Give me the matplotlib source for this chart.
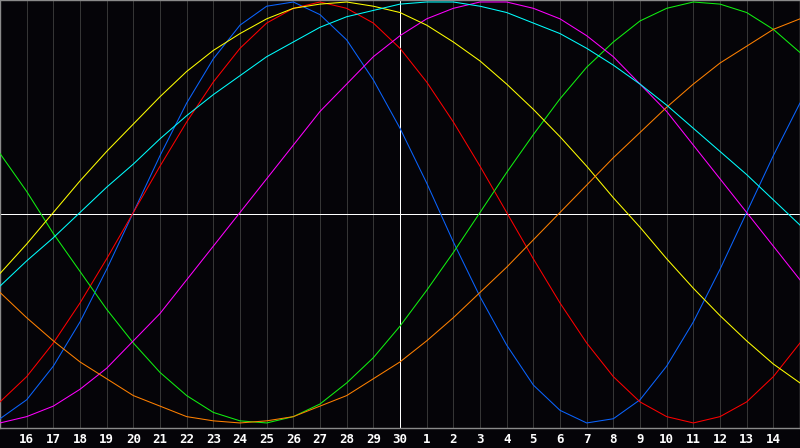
import matplotlib
matplotlib.use('Agg')
import matplotlib.pyplot as plt

# day labels along the bottom (index 0 = the 15th, at the left edge)
days = list(range(31))
day_labels = ['16', '17', '18', '19', '20', '21', '22', '23', '24', '25', '26', '27', '28', '29', '30',
              '1', '2', '3', '4', '5', '6', '7', '8', '9', '10', '11', '12', '13', '14']

# cycle values per day, in percent
physical = [-98, -89, -73, -52, -27, 0, 27, 52, 73, 89, 98, 100, 94, 82, 63, 40, 14, -14, -40, -63,
            -82, -94, -100, -98, -89, -73, -52, -27, 0, 27, 52]
emotional = [-90, -78, -62, -43, -22, 0, 22, 43, 62, 78, 90, 97, 100, 97, 90, 78, 62, 43, 22, 0,
             -22, -43, -62, -78, -90, -97, -100, -97, -90, -78, -62]
intellectual = [28, 10, -10, -28, -46, -62, -76, -87, -95, -99, -100, -97, -91, -81, -69, -54, -37, -19,
                0, 19, 37, 54, 69, 81, 91, 97, 100, 99, 95, 87, 76]
intuitive = [-100, -97, -92, -84, -74, -61, -48, -32, -16, 0, 16, 32, 48, 61, 74, 84, 92, 97, 100, 100,
             97, 92, 84, 74, 61, 48, 32, 16, 0, -16, -32]
aesthetic = [-29, -15, 0, 15, 29, 42, 55, 67, 77, 85, 92, 97, 99, 100, 98, 95, 89, 81, 72, 61, 49, 36,
             22, 7, -7, -22, -36, -49, -61, -72, -81]
awareness = [-38, -50, -61, -71, -79, -87, -92, -97, -99, -100, -99, -97, -92, -87, -79, -71, -61, -50,
             -38, -26, -13, 0, 13, 26, 38, 50, 61, 71, 79, 87, 92]
spiritual = [-35, -23, -12, 0, 12, 23, 35, 46, 56, 65, 74, 81, 88, 93, 96, 99, 100, 100, 98, 95, 90,
             85, 78, 70, 61, 51, 40, 29, 18, 6, -6]

series = [
    (physical, '#0a64ff'),
    (emotional, '#ff0000'),
    (intellectual, '#10f010'),
    (intuitive, '#ff00ff'),
    (aesthetic, '#ffff00'),
    (awareness, '#ff8000'),
    (spiritual, '#00ffff'),
]

bg = '#050408'
fig = plt.figure(figsize=(8, 4.48), dpi=100, facecolor=bg)
ax = fig.add_axes([0, 20 / 448, 1, 428 / 448])
ax.set_facecolor(bg)

# vertical day grid
for d in range(1, 30):
    if d == 15:
        continue
    ax.axvline(d, color='#353535', lw=0.72, zorder=1, antialiased=False)
ax.axvline(15, color='white', lw=0.72, zorder=2, antialiased=False)
ax.axhline(-0.7, color='white', lw=0.72, zorder=2, antialiased=False)

for vals, col in series:
    ax.plot(days, vals, color=col, lw=0.75, zorder=3)

ax.set_xlim(0, 30)
ax.set_ylim(-102.4, 100.95)
ax.set_yticks([])
ax.set_xticks(range(1, 30))
ax.set_xticklabels(day_labels, color='white', fontweight='bold', family='DejaVu Sans Mono', fontsize=9)
ax.tick_params(axis='x', length=0, pad=3.5)
for s in ax.spines.values():
    s.set_color('#8a8a8a')
    s.set_linewidth(1)

fig.savefig('out.png', dpi=100, facecolor=bg)
